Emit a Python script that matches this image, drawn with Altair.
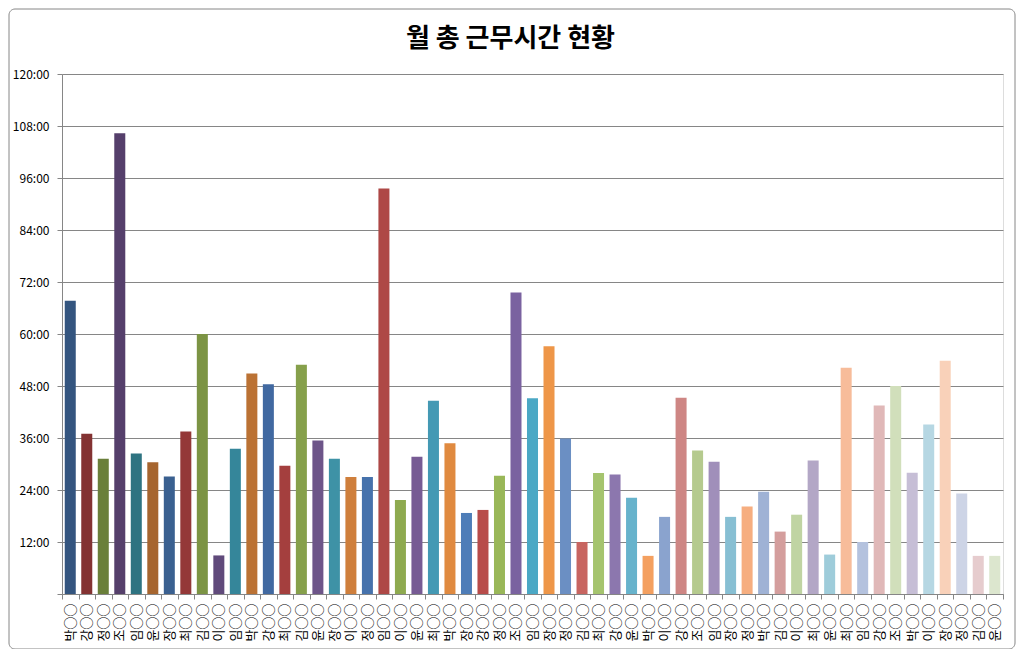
import json
import altair as alt
import pandas as pd

# ---- data ----
chart_title = ["월 총 근무시간 현황"]

names = ["박", "강", "정", "조", "임", "윤", "장", "최", "김", "이",
         "임", "박", "강", "최", "김", "윤", "장", "이", "정", "임",
         "이", "윤", "최", "박", "장", "강", "정", "조", "임", "장",
         "정", "김", "최", "강", "윤", "박", "이", "강", "조", "임",
         "장", "정", "박", "김", "이", "최", "윤", "최", "임", "강",
         "조", "박", "이", "장", "정", "김", "윤"]
labels = [n + "○○" for n in names]

# total monthly working time, in hours
hours = [67.7, 37.0, 31.2, 106.3, 32.4, 30.4, 27.1, 37.5, 60.0, 8.9,
         33.5, 50.9, 48.4, 29.6, 52.9, 35.4, 31.2, 27.0, 27.0, 93.6,
         21.7, 31.7, 44.6, 34.8, 18.7, 19.4, 27.3, 69.6, 45.2, 57.2,
         35.9, 12.0, 27.9, 27.6, 22.2, 8.8, 17.8, 45.3, 33.1, 30.5,
         17.8, 20.2, 23.6, 14.4, 18.3, 30.8, 9.1, 52.2, 12.0, 43.5,
         48.0, 28.0, 39.1, 53.8, 23.2, 8.8, 8.8]

y_ticks = [0, 12, 24, 36, 48, 60, 72, 84, 96, 108, 120]

# Excel-style "vary colors by point" palette
palette = ["#34557F", "#833232", "#6A7F3A", "#553F6B", "#2E7381", "#A6652F",
           "#3A6090", "#943838", "#7C9444", "#604A7B", "#35869A", "#BB7234",
           "#4169A1", "#A43F3E", "#86A04B", "#6D5589", "#3E92A6", "#CF7F3C",
           "#4672AC", "#AE4846", "#8EAA4F", "#775B94", "#4499B4", "#E08A40",
           "#4E7DB8", "#B84C4A", "#99B758", "#7A62A0", "#4BA8C5", "#EE9648",
           "#6B8FC3", "#C86560", "#A5C46E", "#8C77AE", "#67B3CC", "#F4A060",
           "#8AA3CE", "#CE8684", "#B5CA8E", "#A08FBA", "#87BFD3", "#F6AE80",
           "#9FB2D5", "#D49E9D", "#C0D4A3", "#B3A7C6", "#9ECCDA", "#F7BC9A",
           "#B4C2DE", "#E0B8B8", "#D1DFBB", "#C6BED6", "#B6D7E3", "#F9D1B9",
           "#CDD4E6", "#E6CCCE", "#DCE6CE"]

df = pd.DataFrame({"idx": list(range(len(hours))), "name": labels, "hours": hours})

KFONT = "Noto Sans CJK KR"
GRAY = "#868686"

label_expr = json.dumps(labels, ensure_ascii=False) + "[datum.value]"

bars = alt.Chart(df).mark_bar(width={"band": 0.667}).encode(
    x=alt.X(
        "idx:O",
        title=None,
        scale=alt.Scale(paddingInner=0, paddingOuter=0),
        axis=alt.Axis(
            labelExpr=label_expr,
            labelAngle=270,
            labelFont=KFONT,
            labelFontSize=13,
            labelColor="#000000",
            labelPadding=4,
            labelOverlap=False,
            labelBound=False,
            tickBand="extent",
            tickSize=5,
            tickColor=GRAY,
            domainColor=GRAY,
            grid=False,
        ),
    ),
    y=alt.Y(
        "hours:Q",
        title=None,
        scale=alt.Scale(domain=[0, 120], nice=False, zero=True),
        axis=alt.Axis(
            values=y_ticks,
            labelExpr="datum.value == 0 ? '' : datum.value + ':00'",
            labelFont=KFONT,
            labelFontSize=12,
            labelColor="#000000",
            labelPadding=8,
            tickSize=5,
            tickColor=GRAY,
            domainColor=GRAY,
            grid=True,
            gridColor=GRAY,
            gridWidth=1,
        ),
    ),
    color=alt.Color(
        "idx:N",
        scale=alt.Scale(domain=list(range(len(hours))), range=palette),
        legend=None,
    ),
    tooltip=["name:N", "hours:Q"],
)

frame = alt.Chart(pd.DataFrame({"f": [0]})).mark_rect(
    fillOpacity=0, stroke=GRAY, strokeWidth=1, cornerRadius=6
).encode(
    x=alt.value(-53), x2=alt.value(953),
    y=alt.value(-65), y2=alt.value(575),
)

title = alt.Chart(pd.DataFrame({"t": chart_title})).mark_text(
    font=KFONT, fontSize=26, fontWeight="bold", color="#000000",
    align="center", baseline="middle",
).encode(
    text="t:N",
    x=alt.value(448.5),
    y=alt.value(-35),
)

chart = alt.layer(frame, bars, title).properties(
    width=941,
    height=520,
    autosize=alt.AutoSizeParams(type="none"),
    padding={"left": 54, "top": 66, "right": 13, "bottom": 55},
).configure_view(
    stroke=GRAY, strokeWidth=1
).configure(background="#ffffff")

chart.save("out.html", embed_options={"renderer": "svg", "actions": False})
